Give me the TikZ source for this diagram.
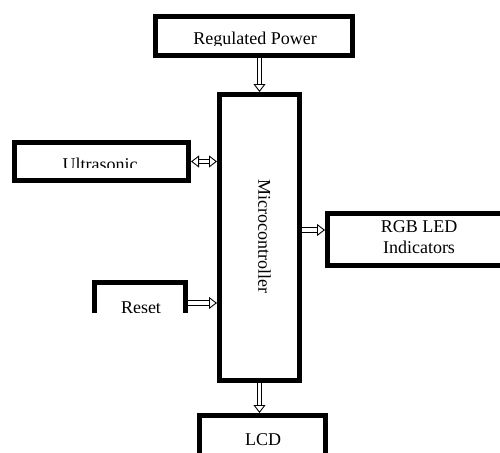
\documentclass[tikz,border=0pt]{standalone}
\usepackage{fontspec}
\setmainfont{Liberation Serif}
\usetikzlibrary{arrows.meta,calc}
\begin{document}
\begin{tikzpicture}[x=1pt,y=-1pt,
  box/.style={draw, line width=5pt, rectangle, inner sep=0pt},
  lbl/.style={inner sep=0pt, font=\fontsize{18pt}{20.7pt}\selectfont},
  htip/.style={Triangle[length=8pt,width=12pt,fill=white,line width=0.9pt]},
  harrow/.style={draw, double=white, double distance=3.6pt, line width=0.9pt, -{Triangle[length=8pt,width=12pt,fill=white]}},
  hdarrow/.style={draw, double=white, double distance=3.6pt, line width=0.9pt, {Triangle[length=8pt,width=12pt,fill=white]}-{Triangle[length=8pt,width=12pt,fill=white]}}
]
\path[use as bounding box, clip] (0,0) rectangle (500,452);
\fill[white] (0,0) rectangle (500,452);

% boxes
\node[box, minimum width=197pt, minimum height=39pt] (power) at (254,36) {};
\node[box, minimum width=80pt, minimum height=286pt] (micro) at (259.5,237.5) {};
\node[box, minimum width=174pt, minimum height=38pt] (ultra) at (101.5,161.5) {};
\node[box, minimum width=182.5pt, minimum height=52pt] (rgb) at (418.75,239.5) {};
\node[box, minimum width=126pt, minimum height=49pt] (lcd) at (262.5,440) {};
\begin{scope}
  \clip (0,0) rectangle (500,312);
  \node[box, minimum width=91pt, minimum height=41pt] (reset) at (140,303) {};
  \node[lbl, anchor=base] (resettxt) at (141,313) {Reset};
\end{scope}

% texts
\begin{scope}
  \clip (0,0) rectangle (500,46);
  \node[lbl, anchor=base] (powertxt) at (255,44.5) {Regulated Power};
\end{scope}
\begin{scope}
  \clip (0,0) rectangle (500,167);
  \node[lbl, anchor=base] (ultratxt) at (100,170) {Ultrasonic};
\end{scope}
\node[lbl, anchor=base] (rgbtxt1) at (419,232.7) {RGB LED};
\node[lbl, anchor=base] (rgbtxt2) at (419,253.4) {Indicators};
\node[lbl, anchor=base] (lcdtxt) at (263,445) {LCD};
\node[lbl, rotate=-90, text depth=0pt] (microtxt) at (264.5,236) {Microcontroller};

% connectors
\coordinate (ry) at (0,230);
\draw[harrow] (power.south -| micro.north) -- (micro.north);
\draw[hdarrow] (ultra.east) -- (ultra.east -| micro.west);
\draw[harrow] (reset.east) -- (reset.east -| micro.west);
\draw[harrow] (micro.east |- ry) -- (rgb.west |- ry);
\draw[harrow] (micro.south) -- (micro.south |- lcd.north);
\end{tikzpicture}
\end{document}
